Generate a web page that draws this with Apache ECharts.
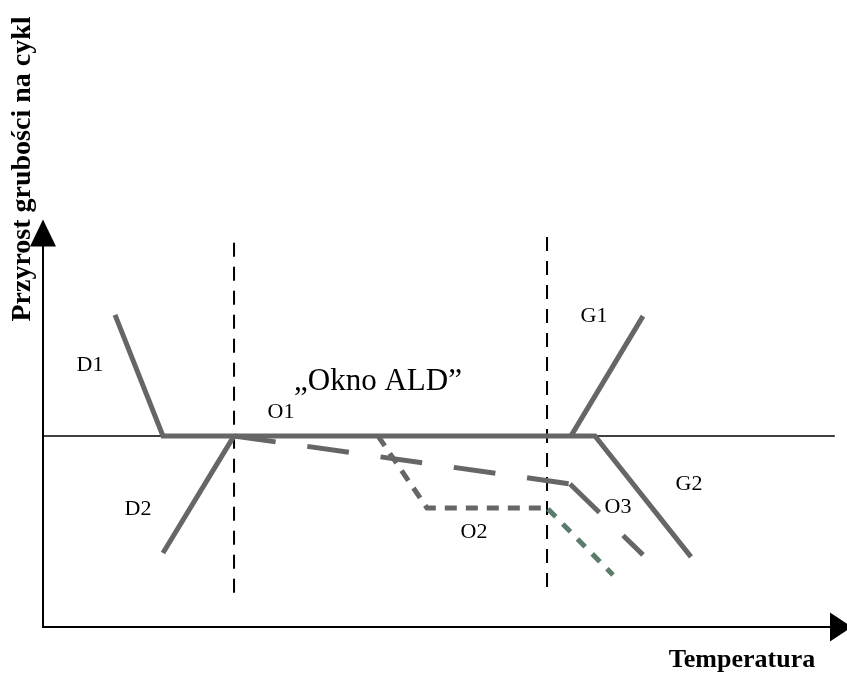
<!DOCTYPE html>
<html>
<head>
<meta charset="utf-8">
<script src="https://cdn.jsdelivr.net/npm/echarts@6/dist/echarts.min.js"></script>
<style>html,body{margin:0;padding:0;background:#fff}#c{width:847px;height:675px}</style>
</head>
<body>
<div id="c"></div>
<script>
// Schematic data (arbitrary units: x = temperature, y = growth per cycle)
const baseline = [[0, 48.5], [99.6, 48.5]];
const curveD1Main = [[9.06, 79.2], [15.09, 48.5], [69.43, 48.5], [81.51, 17.8]]; // D1 -> plateau -> G2
const curveG1 = [[66.42, 48.5], [75.47, 78.9]];
const curveD2 = [[15.09, 18.8], [24.03, 48.5]];
const curveO1a = [[24.03, 48.5], [66.29, 36.3]];
const curveO1b = [[66.29, 36.3], [75.47, 18.3]];
const curveO2 = [[42.14, 48.5], [48.30, 30.2], [63.14, 30.2]];
const curveO2b = [[63.52, 29.95], [71.70, 13.2]];
const windowLeft = [[24.03, 97.5], [24.03, 6.85]];
const windowRight = [[63.40, 99.0], [63.40, 7.6]];
const labelNames = ['D1', 'D2', 'O1', '„Okno ALD”', 'G1', 'G2', 'O3', 'O2'];
const labelX = [5.91, 11.95, 29.94, 42.14, 69.31, 81.26, 72.33, 54.21];
const labelY = [66.5, 29.95, 54.57, 62.18, 78.93, 36.29, 30.46, 24.11];
const labelSize = [22, 22, 22, 31, 22, 22, 22, 22];
const xTitle = 'Temperatura';
const yTitle = 'Przyrost grubości na cykl';

const FONT = '"Liberation Serif", "Times New Roman", serif';
const GRAY = '#666666';

function lineSeries(data, color, width, type, z) {
  return {
    type: 'line', data: data, symbol: 'none', silent: true, z: z || 2,
    lineStyle: { color: color, width: width, type: type || 'solid', cap: 'butt', join: 'miter' }
  };
}

const chart = echarts.init(document.getElementById('c'), null, { renderer: 'canvas' });
chart.setOption({
  animation: false,
  backgroundColor: '#ffffff',
  grid: { left: 43, right: 9, top: 233, bottom: 48 },
  xAxis: {
    type: 'value', min: 0, max: 100,
    axisLine: { onZero: false, lineStyle: { color: '#000', width: 2 }, symbol: ['none', 'triangle'], symbolSize: [29, 22], symbolOffset: [0, 3] },
    axisTick: { show: false }, axisLabel: { show: false }, splitLine: { show: false }
  },
  yAxis: {
    type: 'value', min: 0, max: 100,
    axisLine: { show: true, onZero: false, lineStyle: { color: '#000', width: 2 }, symbol: ['none', 'triangle'], symbolSize: [26, 27] },
    axisTick: { show: false }, axisLabel: { show: false }, splitLine: { show: false }
  },
  series: [
    lineSeries(baseline, '#000', 1.5, 'solid', 1),
    lineSeries(windowLeft, '#000', 2, [14, 10], 1),
    lineSeries(windowRight, '#000', 2, [14, 10], 1),
    lineSeries(curveO1a, GRAY, 5, [42, 32], 2),
    lineSeries(curveO1b, GRAY, 5, [41, 33], 2),
    lineSeries(curveO2, GRAY, 5, [12, 9], 2),
    lineSeries(curveO2b, '#5b7b6b', 5, [11, 10], 2),
    lineSeries(curveD2, GRAY, 5, 'solid', 3),
    lineSeries(curveG1, GRAY, 5, 'solid', 3),
    lineSeries(curveD1Main, GRAY, 5, 'solid', 3)
  ]
});

const graphics = [
  { type: 'text', x: 23, y: 169, rotation: Math.PI / 2, z: 10,
    style: { text: yTitle, font: 'bold 28px ' + FONT, fill: '#000', textAlign: 'center', textVerticalAlign: 'middle' } },
  { type: 'text', x: 742, y: 660, z: 10,
    style: { text: xTitle, font: 'bold 26px ' + FONT, fill: '#000', textAlign: 'center', textVerticalAlign: 'middle' } }
];
labelNames.forEach(function (n, i) {
  const p = chart.convertToPixel({ gridIndex: 0 }, [labelX[i], labelY[i]]);
  graphics.push({ type: 'text', x: p[0], y: p[1], z: 10,
    style: { text: n, font: labelSize[i] + 'px ' + FONT, fill: '#000', textAlign: 'center', textVerticalAlign: 'middle' } });
});
chart.setOption({ graphic: graphics });
</script>
</body>
</html>
